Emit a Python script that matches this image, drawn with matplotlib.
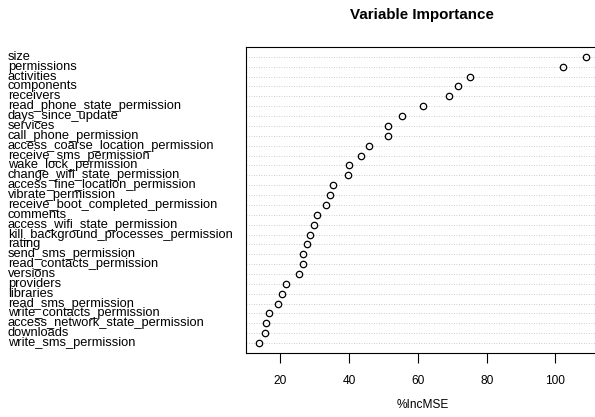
import matplotlib.pyplot as plt
import matplotlib.transforms as mtransforms

plt.rcParams['font.family'] = ['Liberation Sans', 'DejaVu Sans']

## Variables, top to bottom ##
variables = ['size', 'permissions', 'activities', 'components', 'receivers',
             'read_phone_state_permission', 'days_since_update', 'services',
             'call_phone_permission', 'access_coarse_location_permission',
             'receive_sms_permission', 'wake_lock_permission',
             'change_wifi_state_permission', 'access_fine_location_permission',
             'vibrate_permission', 'receive_boot_completed_permission',
             'comments', 'access_wifi_state_permission',
             'kill_background_processes_permission', 'rating',
             'send_sms_permission', 'read_contacts_permission', 'versions',
             'providers', 'libraries', 'read_sms_permission',
             'write_contacts_permission', 'access_network_state_permission',
             'downloads', 'write_sms_permission']

inc_mse = [108.9, 102.1, 75.1, 71.7, 69.2,
           61.5, 55.3, 51.3, 51.3, 45.8,
           43.6, 40.1, 39.6, 35.4, 34.6,
           33.4, 30.8, 29.8, 28.7, 27.8,
           26.7, 26.7, 25.4, 21.7, 20.6,
           19.3, 16.9, 15.9, 15.7, 13.8]

n = len(variables)
ypos = [n - i for i in range(n)]

fig = plt.figure(figsize=(5.95, 4.17), dpi=100)
ax = fig.add_axes([0.413, 0.1535, 0.594, 0.734])

# dotted guide lines like R dotchart
for y in ypos:
    ax.axhline(y, color='#bebebe', linestyle=(0, (1, 2)), linewidth=0.6, zorder=1)

ax.plot(inc_mse, ypos, 'o', markerfacecolor='none', markeredgecolor='black',
        markersize=4.6, markeredgewidth=0.9, zorder=3)

lo, hi = min(inc_mse), max(inc_mse)
pad = (hi - lo) * 0.04
ax.set_xlim(lo - pad, hi + pad)
ax.set_ylim(0, n + 1)

ax.set_yticks([])
ax.set_xticks([20, 40, 60, 80, 100])
ax.tick_params(axis='x', length=7, width=0.8, pad=9, labelsize=8.6)
for s in ax.spines.values():
    s.set_linewidth(0.8)

# labels on the left edge of the figure
trans = mtransforms.blended_transform_factory(fig.transFigure, ax.transData)
for name, y in zip(variables, ypos):
    ax.text(0.0134, y, name, transform=trans, ha='left', va='center',
            fontsize=9.3, clip_on=False)

fig.text(0.709, 1 - 15 / 417, 'Variable Importance', ha='center', va='center',
         fontsize=10.9, fontweight='bold')
fig.text(0.711, 1 - 405 / 417, '%IncMSE', ha='center', va='center', fontsize=8.6)

plt.savefig('out.png', dpi=100)
